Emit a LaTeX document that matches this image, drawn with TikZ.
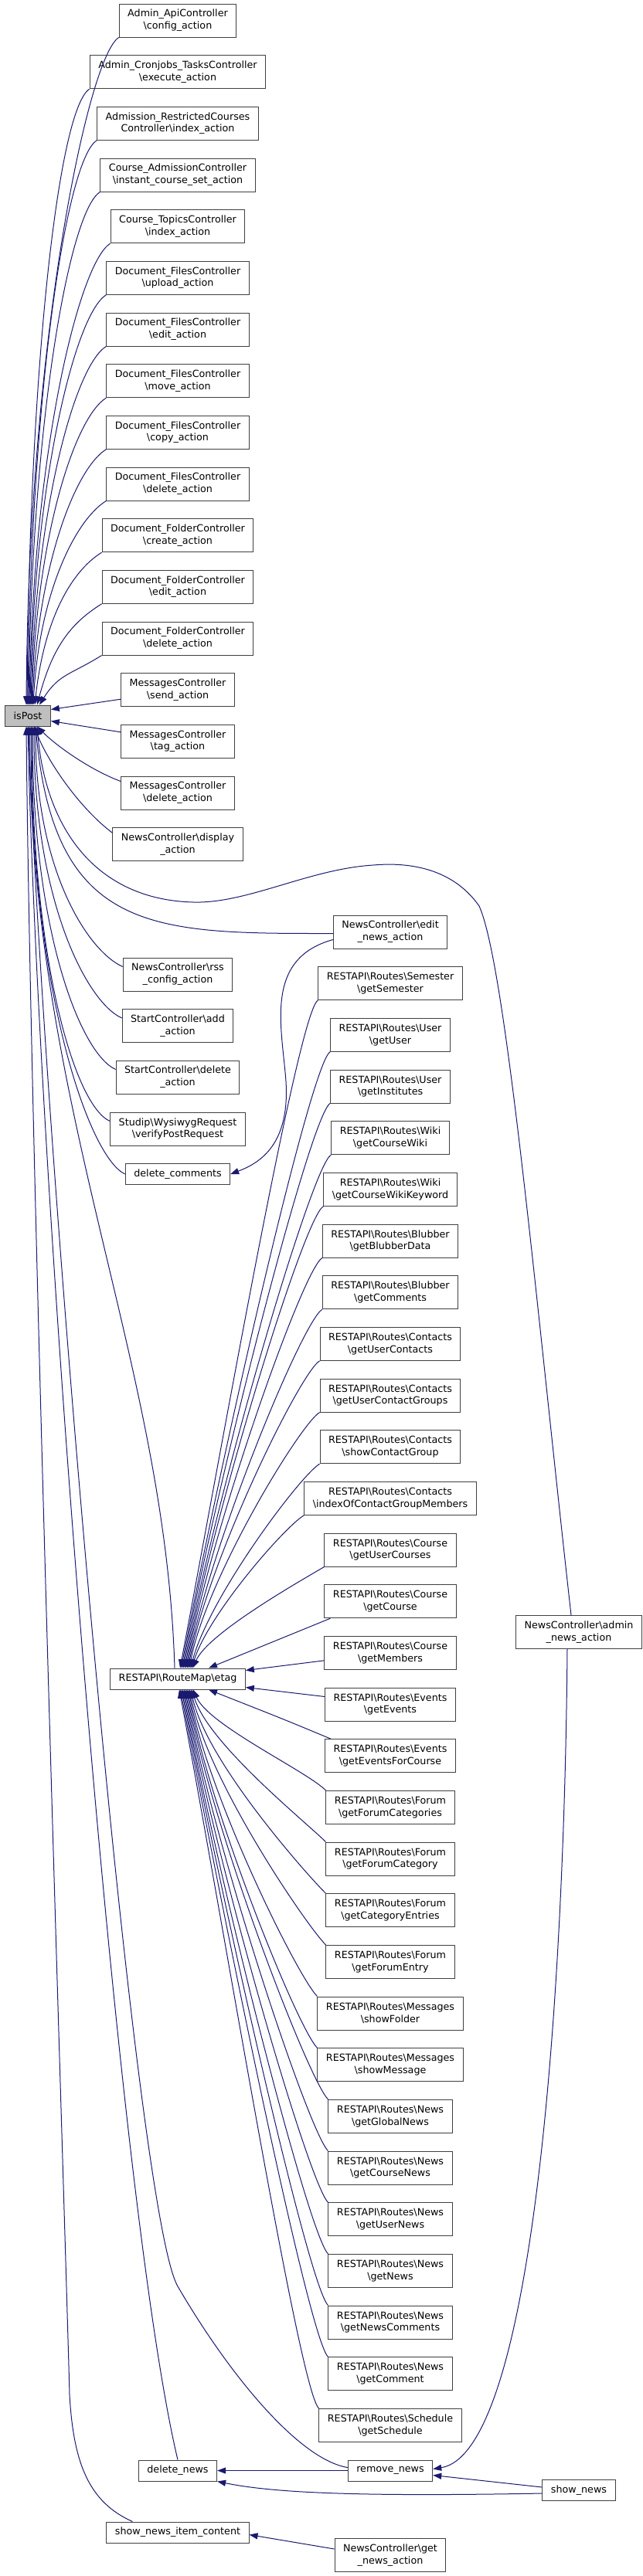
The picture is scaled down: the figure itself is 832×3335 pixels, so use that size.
\documentclass[tikz,border=0pt]{standalone}
\usepackage{fontspec}
\setmainfont{DejaVu Sans}
\usetikzlibrary{arrows.meta}

\definecolor{navy}{HTML}{191970}
\newcommand{\bsl}{\textbackslash{}}

\tikzset{
  box/.style={rectangle, draw=black!75, line width=1pt, fill=white, align=center,
    inner xsep=11pt, inner ysep=1pt, minimum height=43pt,
    font=\fontsize{12.7}{15.7}\selectfont},
  lone/.style={box, minimum height=27pt},
  call/.style={draw=navy, line width=1pt, -{Triangle[length=11pt, width=8pt]}}
}

\begin{document}
\begin{tikzpicture}[x=1pt, y=-1pt]
    \useasboundingbox (0,0) rectangle (832,3335);

    % the called function
    \node[lone, fill=black!25] (isPost) at (36,926.5) {isPost};

    % first column
    \node[box] (b1) at (230,26.5) {Admin\_ApiController\\\bsl config\_action};
    \node[box] (b2) at (230,93.2) {Admin\_Cronjobs\_TasksController\\\bsl execute\_action};
    \node[box] (b3) at (230,159.8) {Admission\_RestrictedCourses\\Controller\bsl index\_action};
    \node[box] (b4) at (230,226.5) {Course\_AdmissionController\\\bsl instant\_course\_set\_action};
    \node[box] (b5) at (230,293.2) {Course\_TopicsController\\\bsl index\_action};
    \node[box] (b6) at (230,359.8) {Document\_FilesController\\\bsl upload\_action};
    \node[box] (b7) at (230,426.5) {Document\_FilesController\\\bsl edit\_action};
    \node[box] (b8) at (230,493.2) {Document\_FilesController\\\bsl move\_action};
    \node[box] (b9) at (230,559.8) {Document\_FilesController\\\bsl copy\_action};
    \node[box] (b10) at (230,626.5) {Document\_FilesController\\\bsl delete\_action};
    \node[box] (b11) at (230,693.2) {Document\_FolderController\\\bsl create\_action};
    \node[box] (b12) at (230,759.8) {Document\_FolderController\\\bsl edit\_action};
    \node[box] (b13) at (230,826.5) {Document\_FolderController\\\bsl delete\_action};
    \node[box] (b14) at (230,893.2) {MessagesController\\\bsl send\_action};
    \node[box] (b15) at (230,959.8) {MessagesController\\\bsl tag\_action};
    \node[box] (b16) at (230,1026.5) {MessagesController\\\bsl delete\_action};
    \node[box] (b17) at (230,1093.2) {NewsController\bsl display\\\_action};
    \node[box] (b18) at (230,1261.5) {NewsController\bsl rss\\\_config\_action};
    \node[box] (b19) at (230,1328) {StartController\bsl add\\\_action};
    \node[box] (b20) at (230,1394.5) {StartController\bsl delete\\\_action};
    \node[box] (b21) at (230,1461.5) {Studip\bsl WysiwygRequest\\\bsl verifyPostRequest};
    \node[lone] (dc) at (230,1520) {delete\_comments};
    \node[lone] (etag) at (230,2173.5) {RESTAPI\bsl RouteMap\bsl etag};
    \node[lone] (dn) at (230,3198.5) {delete\_news};
    \node[lone] (snic) at (230,3278.5) {show\_news\_item\_content};

    % second column
    \node[box] (c0) at (505,1206.5) {NewsController\bsl edit\\\_news\_action};
    \node[box] (c1) at (505,1273.2) {RESTAPI\bsl Routes\bsl Semester\\\bsl getSemester};
    \node[box] (c2) at (505,1339.8) {RESTAPI\bsl Routes\bsl User\\\bsl getUser};
    \node[box] (c3) at (505,1406.5) {RESTAPI\bsl Routes\bsl User\\\bsl getInstitutes};
    \node[box] (c4) at (505,1473.2) {RESTAPI\bsl Routes\bsl Wiki\\\bsl getCourseWiki};
    \node[box] (c5) at (505,1539.8) {RESTAPI\bsl Routes\bsl Wiki\\\bsl getCourseWikiKeyword};
    \node[box] (c6) at (505,1606.5) {RESTAPI\bsl Routes\bsl Blubber\\\bsl getBlubberData};
    \node[box] (c7) at (505,1673.2) {RESTAPI\bsl Routes\bsl Blubber\\\bsl getComments};
    \node[box] (c8) at (505,1739.8) {RESTAPI\bsl Routes\bsl Contacts\\\bsl getUserContacts};
    \node[box] (c9) at (505,1806.5) {RESTAPI\bsl Routes\bsl Contacts\\\bsl getUserContactGroups};
    \node[box] (c10) at (505,1873.2) {RESTAPI\bsl Routes\bsl Contacts\\\bsl showContactGroup};
    \node[box] (c11) at (505,1939.8) {RESTAPI\bsl Routes\bsl Contacts\\\bsl indexOfContactGroupMembers};
    \node[box] (c12) at (505,2006.5) {RESTAPI\bsl Routes\bsl Course\\\bsl getUserCourses};
    \node[box] (c13) at (505,2073.2) {RESTAPI\bsl Routes\bsl Course\\\bsl getCourse};
    \node[box] (c14) at (505,2139.8) {RESTAPI\bsl Routes\bsl Course\\\bsl getMembers};
    \node[box] (c15) at (505,2206.5) {RESTAPI\bsl Routes\bsl Events\\\bsl getEvents};
    \node[box] (c16) at (505,2273.2) {RESTAPI\bsl Routes\bsl Events\\\bsl getEventsForCourse};
    \node[box] (c17) at (505,2339.8) {RESTAPI\bsl Routes\bsl Forum\\\bsl getForumCategories};
    \node[box] (c18) at (505,2406.5) {RESTAPI\bsl Routes\bsl Forum\\\bsl getForumCategory};
    \node[box] (c19) at (505,2473.2) {RESTAPI\bsl Routes\bsl Forum\\\bsl getCategoryEntries};
    \node[box] (c20) at (505,2539.8) {RESTAPI\bsl Routes\bsl Forum\\\bsl getForumEntry};
    \node[box] (c21) at (505,2606.5) {RESTAPI\bsl Routes\bsl Messages\\\bsl showFolder};
    \node[box] (c22) at (505,2673.2) {RESTAPI\bsl Routes\bsl Messages\\\bsl showMessage};
    \node[box] (c23) at (505,2739.8) {RESTAPI\bsl Routes\bsl News\\\bsl getGlobalNews};
    \node[box] (c24) at (505,2806.5) {RESTAPI\bsl Routes\bsl News\\\bsl getCourseNews};
    \node[box] (c25) at (505,2873.2) {RESTAPI\bsl Routes\bsl News\\\bsl getUserNews};
    \node[box] (c26) at (505,2939.8) {RESTAPI\bsl Routes\bsl News\\\bsl getNews};
    \node[box] (c27) at (505,3006.5) {RESTAPI\bsl Routes\bsl News\\\bsl getNewsComments};
    \node[box] (c28) at (505,3073.2) {RESTAPI\bsl Routes\bsl News\\\bsl getComment};
    \node[box] (c29) at (505,3139.8) {RESTAPI\bsl Routes\bsl Schedule\\\bsl getSchedule};
    \node[lone] (rn) at (505,3198.5) {remove\_news};
    \node[box] (gn) at (505,3308) {NewsController\bsl get\\\_news\_action};

    % third column
    \node[box] (admin) at (749,2113) {NewsController\bsl admin\\\_news\_action};
    \node[lone] (sn) at (749,3224) {show\_news};

    % callers above isPost
    \draw[call] (b1.south west) .. controls +(-40,25) and +(3,-470) .. ([xshift=-2pt]isPost.north);
    \draw[call] (b2.south west) .. controls +(-40,25) and +(3,-440) .. ([xshift=-1pt]isPost.north);
    \draw[call] (b3.south west) .. controls +(-40,25) and +(4,-400) .. (isPost.north);
    \draw[call] (b4.south west) .. controls +(-40,25) and +(4,-365) .. ([xshift=1pt]isPost.north);
    \draw[call] (b5.south west) .. controls +(-40,25) and +(5,-330) .. ([xshift=2pt]isPost.north);
    \draw[call] (b6.south west) .. controls +(-40,25) and +(5,-290) .. ([xshift=3pt]isPost.north);
    \draw[call] (b7.south west) .. controls +(-40,25) and +(6,-255) .. ([xshift=4pt]isPost.north);
    \draw[call] (b8.south west) .. controls +(-40,25) and +(6,-220) .. ([xshift=5pt]isPost.north);
    \draw[call] (b9.south west) .. controls +(-40,25) and +(7,-180) .. ([xshift=6pt]isPost.north);
    \draw[call] (b10.south west) .. controls +(-40,25) and +(8,-145) .. ([xshift=7pt]isPost.north);
    \draw[call] (b11.south west) .. controls +(-40,25) and +(12,-110) .. ([xshift=9pt]isPost.north);
    \draw[call] (b12.south west) .. controls +(-40,25) and +(20,-75) .. ([xshift=12pt]isPost.north);
    \draw[call] (b13.south west) .. controls +(-40,25) and +(25,-40) .. ([xshift=15pt]isPost.north);
    \draw[call] ([yshift=-12pt]b14.west) -- ([yshift=8pt]isPost.east);
    \draw[call] ([yshift=12pt]b15.west) -- ([yshift=-7pt]isPost.east);
    \draw[call] ([yshift=15pt]b16.west) .. controls +(-40,-15) and +(25,25) .. ([xshift=12pt]isPost.south);
    \draw[call] ([yshift=15pt]b17.west) .. controls +(-40,-30) and +(20,50) .. ([xshift=8pt]isPost.south);

    % callers below isPost
    \draw[call] ([yshift=10pt]b18.west) .. controls +(-45,-20) and +(0,186) .. ([xshift=10pt]isPost.south);
    \draw[call] ([yshift=10pt]b19.west) .. controls +(-45,-20) and +(0,226) .. ([xshift=8pt]isPost.south);
    \draw[call] ([yshift=10pt]b20.west) .. controls +(-45,-20) and +(0,266) .. ([xshift=6pt]isPost.south);
    \draw[call] ([yshift=10pt]b21.west) .. controls +(-45,-20) and +(0,306) .. ([xshift=5pt]isPost.south);
    \draw[call] (dc.west) .. controls +(-45,-20) and +(0,348) .. ([xshift=4pt]isPost.south);
    \draw[call] ([xshift=-4pt]etag.north) .. controls +(-12,-400) and +(3,500) .. ([xshift=2pt]isPost.south);
    \draw[call] (dn.north) .. controls +(-80,-335) and +(12,560) .. (isPost.south);
    \draw[call] ([xshift=34pt]snic.north west) .. controls +(-56,-25) and +(5,90) .. (90,3100)
        .. controls +(-5,-200) and +(5,560) .. ([xshift=-2pt]isPost.south);
    \draw[call] ([yshift=4pt]rn.west) .. controls +(-61,-10) and +(70,120) .. (230,2960)
        .. controls +(-58,-100) and +(14,460) .. ([xshift=1pt]isPost.south);
    \draw[call] ([yshift=-2pt]c0.west) .. controls +(-230,0) and +(25,270) .. ([xshift=10pt]isPost.south);
    \draw[call] ([xshift=-10pt]admin.north) .. controls (695,1700) and (655,1250) .. (620,1173)
        .. controls (590,1130) and (540,1115) .. (483,1120)
        .. controls (400,1125) and (320,1170) .. (250,1168)
        .. controls (130,1165) and (60,1080) .. ([xshift=12pt]isPost.south);

    % news editing
    \draw[call] ([yshift=-10pt]c0.west) .. controls +(-90,25) and +(-5,-70) .. (370,1400)
        .. controls +(5,80) and +(40,-15) .. (dc.east);

    % routes above the etag
    \draw[call] (c1.south west) .. controls +(-25,15) and +(57,-303) .. ([xshift=3pt]etag.north);
    \draw[call] (c2.south west) .. controls +(-25,15) and +(53,-280) .. ([xshift=4.5pt]etag.north);
    \draw[call] (c3.south west) .. controls +(-25,15) and +(48,-256) .. ([xshift=6pt]etag.north);
    \draw[call] (c4.south west) .. controls +(-25,15) and +(44,-233) .. ([xshift=7.5pt]etag.north);
    \draw[call] (c5.south west) .. controls +(-25,15) and +(40,-210) .. ([xshift=9pt]etag.north);
    \draw[call] (c6.south west) .. controls +(-25,15) and +(35,-186) .. ([xshift=10.5pt]etag.north);
    \draw[call] (c7.south west) .. controls +(-25,15) and +(31,-163) .. ([xshift=12pt]etag.north);
    \draw[call] (c8.south west) .. controls +(-25,15) and +(26,-140) .. ([xshift=13.5pt]etag.north);
    \draw[call] (c9.south west) .. controls +(-25,15) and +(22,-116) .. ([xshift=15pt]etag.north);
    \draw[call] (c10.south west) .. controls +(-25,15) and +(25,-93) .. ([xshift=16.5pt]etag.north);
    \draw[call] (c11.south west) .. controls +(-25,15) and +(22,-70) .. ([xshift=18pt]etag.north);
    \draw[call] (c12.south west) .. controls +(-25,15) and +(20,-46) .. ([xshift=19.5pt]etag.north);
    \draw[call] ([xshift=8pt]c13.south west) -- ([xshift=40pt]etag.north);
    \draw[call] ([yshift=-10pt]c14.west) -- ([yshift=-3pt]etag.north east);
    \draw[call] ([yshift=10pt]c15.west) -- ([yshift=3pt]etag.south east);
    \draw[call] ([xshift=8pt]c16.north west) .. controls +(-60,-25) .. ([xshift=40pt]etag.south);

    % routes below the etag
    \draw[call] (c17.north west) .. controls +(-25,-25) and +(20,46) .. ([xshift=20pt]etag.south);
    \draw[call] (c18.north west) .. controls +(-25,-25) and +(20,69) .. ([xshift=18.5pt]etag.south);
    \draw[call] (c19.north west) .. controls +(-25,-25) and +(20,93) .. ([xshift=17pt]etag.south);
    \draw[call] (c20.north west) .. controls +(-25,-25) and +(22,116) .. ([xshift=15.5pt]etag.south);
    \draw[call] (c21.north west) .. controls +(-25,-25) and +(26,139) .. ([xshift=14pt]etag.south);
    \draw[call] (c22.north west) .. controls +(-25,-25) and +(31,163) .. ([xshift=12.5pt]etag.south);
    \draw[call] (c23.north west) .. controls +(-25,-25) and +(35,186) .. ([xshift=11pt]etag.south);
    \draw[call] (c24.north west) .. controls +(-25,-25) and +(39,209) .. ([xshift=9.5pt]etag.south);
    \draw[call] (c25.north west) .. controls +(-25,-25) and +(44,233) .. ([xshift=8pt]etag.south);
    \draw[call] (c26.north west) .. controls +(-25,-25) and +(48,256) .. ([xshift=6.5pt]etag.south);
    \draw[call] (c27.north west) .. controls +(-25,-25) and +(53,279) .. ([xshift=5pt]etag.south);
    \draw[call] (c28.north west) .. controls +(-25,-25) and +(57,303) .. ([xshift=3.5pt]etag.south);
    \draw[call] (c29.north west) .. controls +(-25,-25) and +(61,326) .. ([xshift=2pt]etag.south);

    % news removal
    \draw[call] (rn.west) -- (dn.east);
    \draw[call] ([yshift=4pt]sn.west) -- ([yshift=-6pt]rn.east);
    \draw[call] ([yshift=-4pt]sn.west) .. controls +(-222,4) and +(78,16) .. (dn.south east);
    \draw[call] ([xshift=-15pt]admin.south) .. controls +(-4,466) and +(128,-21) .. ([yshift=2pt]rn.east);
    \draw[call] ([yshift=8pt]gn.west) -- ([yshift=-3pt]snic.east);
\end{tikzpicture}
\end{document}
